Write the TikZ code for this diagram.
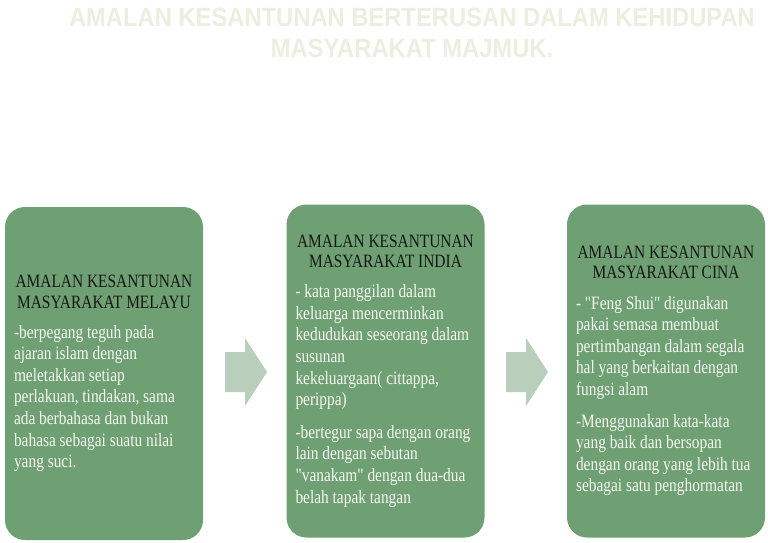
\documentclass[tikz,border=0pt]{standalone}
\usepackage{fontspec}
\usepackage{tikz}
\newfontfamily\panelfont[FakeStretch=0.82]{Liberation Serif}
\newfontfamily\headfont[FakeStretch=0.9]{Liberation Sans}
\newcommand{\panelspace}{\spaceskip=3.8pt plus 1pt minus 0.5pt\relax}
\definecolor{panelgreen}{RGB}{110,160,115}
\definecolor{arrowgreen}{RGB}{185,207,188}
\definecolor{headink}{RGB}{236,238,224}
\definecolor{titleink}{RGB}{22,22,22}
\definecolor{bodyink}{RGB}{246,246,242}
\tikzset{
  panel/.style={fill=panelgreen, rounded corners=20pt, minimum width=198pt,
    minimum height=333pt, text width=180pt, align=left, inner sep=0pt,
    text=bodyink, font=\panelfont\fontsize{18.8}{21.6}\selectfont},
  headline/.style={align=center, text=headink,
    font=\headfont\bfseries\fontsize{26.4}{31}\selectfont}
}
\newcommand{\paneltitle}[1]{{\centering\color{titleink}\fontsize{18.8}{20.5}\selectfont\panelspace #1\par}\vspace{8.5pt}}

\begin{document}
\begin{tikzpicture}[x=1pt,y=-1pt]
      \useasboundingbox (0,0) rectangle (768,543);
      \node [headline] (heading) at (412,32.5) {AMALAN KESANTUNAN BERTERUSAN DALAM KEHIDUPAN\\MASYARAKAT MAJMUK.};
      \node [panel] (melayu) at (104,373.5) {\panelspace\paneltitle{AMALAN KESANTUNAN\\MASYARAKAT MELAYU}
        -berpegang teguh pada\\ajaran islam dengan\\meletakkan setiap\\perlakuan, tindakan, sama\\ada berbahasa dan bukan\\bahasa sebagai suatu nilai\\yang suci.};
      \node [panel] (india) at (385.5,371) {\panelspace\paneltitle{AMALAN KESANTUNAN\\MASYARAKAT INDIA}
        - kata panggilan dalam\\keluarga mencerminkan\\kedudukan seseorang dalam\\susunan\\kekeluargaan( cittappa,\\perippa)\par\vspace{11pt}
        -bertegur sapa dengan orang\\lain dengan sebutan\\"vanakam" dengan dua-dua\\belah tapak tangan};
      \node [panel] (cina) at (666,371) {\panelspace\paneltitle{AMALAN KESANTUNAN\\MASYARAKAT CINA}
        - "Feng Shui" digunakan\\pakai semasa membuat\\pertimbangan dalam segala\\hal yang berkaitan dengan\\fungsi alam\par\vspace{10pt}
        -Menggunakan kata-kata\\yang baik dan bersopan\\dengan orang yang lebih tua\\sebagai satu penghormatan};
      \foreach \dx in {0,281} {
        \fill[arrowgreen] (225+\dx,352) -- (245+\dx,352) -- (245+\dx,338) -- (267+\dx,372)
          -- (245+\dx,406) -- (245+\dx,392) -- (225+\dx,392) -- cycle;
      }
    \end{tikzpicture}
\end{document}
